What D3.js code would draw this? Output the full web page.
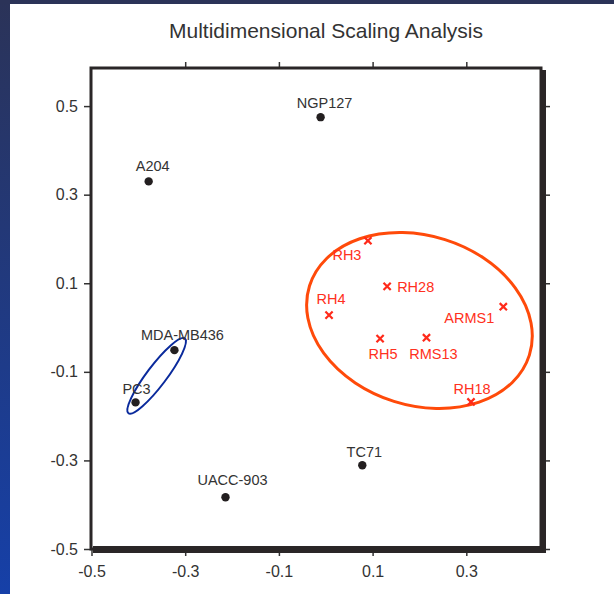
<!DOCTYPE html>
<html>
<head>
<meta charset="utf-8">
<script src="https://cdn.jsdelivr.net/npm/d3@7"></script>
<style>
  body { margin: 0; background: #fff; }
  text { font-family: "Liberation Sans", Arial, Helvetica, sans-serif; fill: #333; }
</style>
</head>
<body>
<script>
// cell lines with filled dots
var darkNames = ["NGP127", "A204", "MDA-MB436", "PC3", "TC71", "UACC-903"];
var darkX = [-0.011, -0.378, -0.323, -0.406, 0.078, -0.214];
var darkY = [0.475, 0.330, -0.051, -0.169, -0.311, -0.383];

// rhabdomyosarcoma group (red crosses)
var redNames = ["RH3", "RH28", "RH4", "RH5", "RMS13", "ARMS1", "RH18"];
var redX = [0.090, 0.131, 0.007, 0.116, 0.215, 0.379, 0.310];
var redY = [0.196, 0.093, 0.028, -0.025, -0.023, 0.047, -0.168];

// tick values
var xTicks = [-0.5, -0.3, -0.1, 0.1, 0.3];
var yTicks = [-0.5, -0.3, -0.1, 0.1, 0.3, 0.5];

// label nudges in px (dx, baseline dy, anchor)
var nudge = {
    "NGP127": [4, -9, "middle"], "A204": [4, -10, "middle"], "MDA-MB436": [8, -10, "middle"],
    "PC3": [1, -8, "middle"], "TC71": [2, -8, "middle"], "UACC-903": [7, -12, "middle"],
    "RH3": [-21, 19, "middle"], "RH28": [10, 6, "start"], "RH4": [2, -11, "middle"],
    "RH5": [3, 20, "middle"], "RMS13": [7, 21, "middle"], "ARMS1": [-34, 16, "middle"],
    "RH18": [1, -8, "middle"]
};

var w = 614, h = 594;
var pLeft = 91, pRight = 541, pTop = 68, pBottom = 549;

var x = d3.scaleLinear().domain([-0.5, 0.4605]).range([pLeft + 0.5, pRight + 0.5]);
var y = d3.scaleLinear().domain([-0.5, 0.586]).range([pBottom, pTop]);

// plain hyphen for negatives, like the original
var fmt = function(d) { return d3.format(".1f")(d).replace("\u2212", "-"); };

var svg = d3.select("body").append("svg")
    .attr("width", w)
    .attr("height", h);

// dark slide edges
var defs = svg.append("defs");
var grad = defs.append("linearGradient").attr("id", "edge")
    .attr("x1", 0).attr("y1", 0).attr("x2", 0).attr("y2", 1);
grad.append("stop").attr("offset", "0%").attr("stop-color", "#2b3358");
grad.append("stop").attr("offset", "100%").attr("stop-color", "#1640a8");
svg.append("rect").attr("x", 0).attr("y", 0).attr("width", 10).attr("height", h).attr("fill", "url(#edge)");
svg.append("rect").attr("x", 0).attr("y", 0).attr("width", w).attr("height", 4).attr("fill", "#2b3358");

// title
svg.append("text")
    .attr("x", 326)
    .attr("y", 37.5)
    .attr("text-anchor", "middle")
    .style("font-size", "21px")
    .text("Multidimensional Scaling Analysis");

// axes, ticks outward on all sides
function styleAxis(g) {
    g.select(".domain").remove();
    g.selectAll("line").attr("stroke", "#333").attr("stroke-width", 1.5);
    g.selectAll("text").style("font-size", "16px").attr("fill", "#333")
        .style("font-family", "'Liberation Sans', Arial, sans-serif");
}

svg.append("g")
    .attr("transform", "translate(" + pLeft + ",0)")
    .call(d3.axisLeft(y).tickValues(yTicks).tickSize(7).tickPadding(6).tickFormat(fmt))
    .call(styleAxis);

svg.append("g")
    .attr("transform", "translate(0," + pBottom + ")")
    .call(d3.axisBottom(x).tickValues(xTicks).tickSize(7).tickPadding(10).tickFormat(fmt))
    .call(styleAxis);

svg.append("g")
    .attr("transform", "translate(0," + pTop + ")")
    .call(d3.axisTop(x).tickValues(xTicks.slice(1)).tickSize(6).tickFormat(""))
    .call(styleAxis);

svg.append("g")
    .attr("transform", "translate(" + pRight + ",0)")
    .call(d3.axisRight(y).tickValues(yTicks).tickSize(9).tickFormat(""))
    .call(styleAxis);

// frame with heavy shadow on right and bottom
svg.append("rect")
    .attr("x", pRight - 1).attr("y", pTop + 2)
    .attr("width", 6).attr("height", pBottom - pTop + 2)
    .attr("fill", "#2a2627");
svg.append("rect")
    .attr("x", pLeft + 2).attr("y", pBottom - 3)
    .attr("width", pRight - pLeft + 3).attr("height", 7)
    .attr("fill", "#2a2627");
svg.append("rect")
    .attr("x", pLeft).attr("y", pTop)
    .attr("width", pRight - pLeft).attr("height", pBottom - pTop)
    .attr("fill", "none")
    .attr("stroke", "#2a2627")
    .attr("stroke-width", 3);

// group ellipses: centre in data, radii in x units, rotation in degrees
var ellipses = [
    { cx: -0.361, cy: -0.109, rx: 0.100, ry: 0.021, rot: -53, color: "#0a2a9c", sw: 2 },
    { cx: 0.200, cy: 0.016, rx: 0.246, ry: 0.181, rot: 17.5, color: "#ff4a0a", sw: 3 }
];
var unit = x(1) - x(0);
svg.selectAll(".grp")
    .data(ellipses)
    .enter()
    .append("ellipse")
    .attr("class", "grp")
    .attr("transform", function(d) {
        return "translate(" + x(d.cx) + "," + y(d.cy) + ") rotate(" + d.rot + ")";
    })
    .attr("rx", function(d) { return d.rx * unit; })
    .attr("ry", function(d) { return d.ry * unit; })
    .attr("fill", "none")
    .attr("stroke", function(d) { return d.color; })
    .attr("stroke-width", function(d) { return d.sw; });

// dots
var dark = darkNames.map(function(n, i) { return { name: n, x: darkX[i], y: darkY[i] }; });
svg.selectAll(".dot")
    .data(dark)
    .enter()
    .append("circle")
    .attr("class", "dot")
    .attr("cx", function(d) { return x(d.x); })
    .attr("cy", function(d) { return y(d.y); })
    .attr("r", 4.2)
    .attr("fill", "#231f20");

svg.selectAll(".dlab")
    .data(dark)
    .enter()
    .append("text")
    .attr("class", "dlab")
    .attr("x", function(d) { return x(d.x) + nudge[d.name][0]; })
    .attr("y", function(d) { return y(d.y) + nudge[d.name][1]; })
    .attr("text-anchor", function(d) { return nudge[d.name][2]; })
    .style("font-size", "14.5px")
    .text(function(d) { return d.name; });

// crosses
var red = redNames.map(function(n, i) { return { name: n, x: redX[i], y: redY[i] }; });
var s = 3.6;
svg.selectAll(".cross")
    .data(red)
    .enter()
    .append("path")
    .attr("class", "cross")
    .attr("d", function(d) {
        var cx = x(d.x), cy = y(d.y);
        return "M" + (cx - s) + "," + (cy - s) + "L" + (cx + s) + "," + (cy + s) +
               "M" + (cx - s) + "," + (cy + s) + "L" + (cx + s) + "," + (cy - s);
    })
    .attr("stroke", "#ff2a1a")
    .attr("stroke-width", 2.2);

svg.selectAll(".rlab")
    .data(red)
    .enter()
    .append("text")
    .attr("class", "rlab")
    .attr("x", function(d) { return x(d.x) + nudge[d.name][0]; })
    .attr("y", function(d) { return y(d.y) + nudge[d.name][1]; })
    .attr("text-anchor", function(d) { return nudge[d.name][2]; })
    .style("font-size", "14.5px")
    .style("fill", "#ff3020")
    .text(function(d) { return d.name; });
</script>
</body>
</html>
